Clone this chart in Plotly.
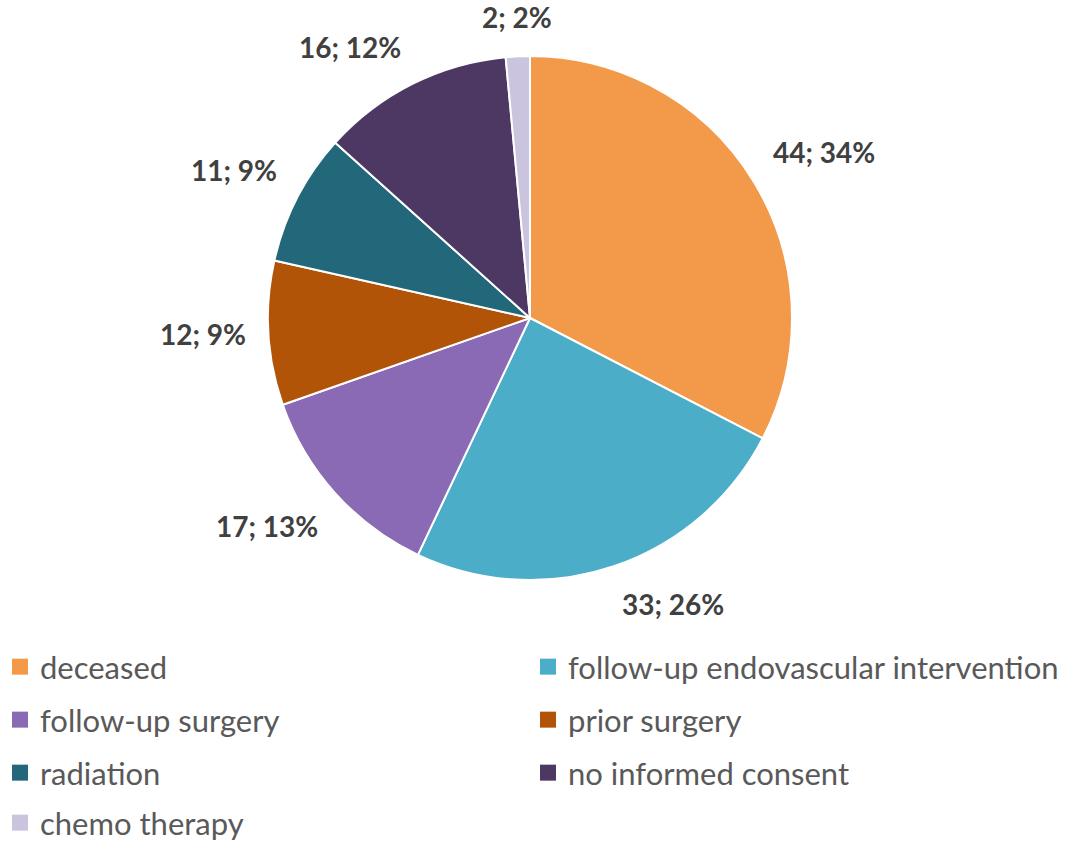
import math
import plotly.graph_objects as go

# Data
categories = ["deceased", "follow-up endovascular intervention", "follow-up surgery",
              "prior surgery", "radiation", "no informed consent", "chemo therapy"]
counts = [44, 33, 17, 12, 11, 16, 2]
pct_labels = ["34%", "26%", "13%", "9%", "9%", "12%", "2%"]
colors = ["#F39A4A", "#4BADC7", "#8A6AB4", "#B25407", "#23687A", "#4C3862", "#CBC4DE"]
legend_rows = [0, 0, 1, 1, 2, 2, 3]
legend_cols = [0, 1, 0, 1, 0, 1, 0]

W, H = 1073, 843
CX, CY, R = 530, 318, 262  # pie centre and radius in px
GAP = 20
FONT = "Lato, 'Open Sans', sans-serif"

fig = go.Figure()

fig.add_trace(go.Pie(
    labels=categories, values=counts, sort=False, direction="clockwise", rotation=0,
    marker=dict(colors=colors, line=dict(color="white", width=2)),
    textinfo="none", hoverinfo="label+value", showlegend=False,
    domain=dict(x=[(CX - R) / W, (CX + R) / W],
                y=[1 - (CY + R) / H, 1 - (CY - R) / H]),
))

# Data labels just outside each slice, along the slice bisector
total = sum(counts)
cum = 0
for v, p in zip(counts, pct_labels):
    mid = (cum + v / 2) / total * 2 * math.pi
    cum += v
    s, c = math.sin(mid), math.cos(mid)
    px = CX + (R + GAP) * s
    py = CY - (R + GAP) * c
    xa = "left" if s > 0.3 else ("right" if s < -0.3 else "center")
    ya = "bottom" if c > 0.35 else ("top" if c < -0.35 else "middle")
    fig.add_annotation(x=px / W, y=1 - py / H, xref="paper", yref="paper",
                       text=f"<b>{v}; {p}</b>", showarrow=False,
                       xanchor=xa, yanchor=ya,
                       font=dict(family=FONT, size=28, color="#404040"))

# Legend: one single-entry legend per slot of a 2-column grid
row_y = [667, 720, 773, 823]
col_x = [0, 528]
layout_legends = {}
for i, (name, col, r, c) in enumerate(zip(categories, colors, legend_rows, legend_cols)):
    key = "legend" if i == 0 else f"legend{i + 1}"
    fig.add_trace(go.Scatter(
        x=[None], y=[None], mode="markers", name=name,
        marker=dict(symbol="square", size=16, color=col), legend=key,
    ))
    layout_legends[key] = dict(
        orientation="h", x=col_x[c] / W, xanchor="left",
        y=1 - row_y[r] / H, yanchor="middle", bgcolor="rgba(0,0,0,0)",
        font=dict(family=FONT, size=31, color="#595959"), itemclick=False,
    )

fig.update_layout(
    width=W, height=H, margin=dict(l=0, r=0, t=0, b=0, autoexpand=False),
    paper_bgcolor="white", plot_bgcolor="white",
    xaxis=dict(visible=False), yaxis=dict(visible=False),
    **layout_legends,
)

fig.write_html("out.html")
